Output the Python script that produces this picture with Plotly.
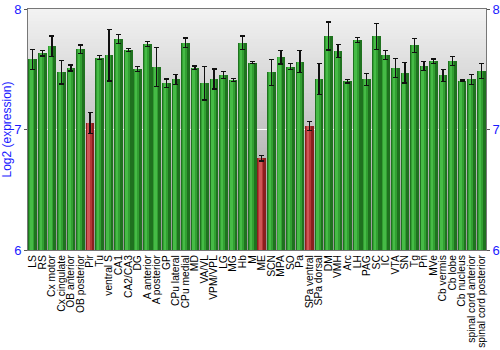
import plotly.graph_objects as go

regions = ["LS", "RS", "Cx motor", "Cx cingulate", "OB anterior", "OB posterior", "Pir", "Tu",
           "ventral S", "CA1", "CA2/CA3", "DG", "A anterior", "A posterior", "GP", "CPu lateral",
           "CPu medial", "MD", "VA/VL", "VPM/VPL", "LG", "MG", "Hb", "M", "ME", "SCN", "MPA", "SO",
           "Pa", "SPa ventral", "SPa dorsal", "DM", "VMH", "Arc", "LH", "PAG", "SC", "IC", "VTA",
           "SN", "Tg", "Pn", "MVe", "Cb vermis", "Cb lobe", "Cb nucleus", "spinal cord anterior",
           "spinal cord posterior"]

expression = [7.583, 7.632, 7.690, 7.475, 7.510, 7.665, 7.056, 7.596,
              7.616, 7.751, 7.660, 7.502, 7.712, 7.519, 7.383, 7.416,
              7.720, 7.513, 7.383, 7.419, 7.452, 7.411, 7.720, 7.554, 6.760, 7.475, 7.599, 7.521,
              7.563, 7.029, 7.419, 7.776, 7.651, 7.400, 7.743, 7.416, 7.773, 7.618, 7.510,
              7.472, 7.699, 7.527, 7.568, 7.450, 7.568, 7.405, 7.416,
              7.486]

error = [0.083, 0.022, 0.086, 0.097, 0.025, 0.036, 0.088, 0.017,
         0.213, 0.036, 0.014, 0.019, 0.021, 0.162, 0.036, 0.041,
         0.039, 0.015, 0.138, 0.082, 0.028, 0.011, 0.057, 0.008, 0.022, 0.108, 0.055, 0.024,
         0.091, 0.036, 0.126, 0.116, 0.055, 0.015, 0.019, 0.050, 0.108, 0.036, 0.077,
         0.086, 0.058, 0.040, 0.018, 0.050, 0.036, 0.006, 0.041,
         0.064]

low_expression = {"Pir", "ME", "SPa ventral"}

y_min, y_max = 6, 8
y_ticks = [6, 7, 8]

# shaded strips give each bar a rounded, cylinder-like look
def shade(dark_g, mid_g, light_g, dark_r, mid_r, light_r):
    return ([dark_r if r in low_expression else dark_g for r in regions],
            [mid_r if r in low_expression else mid_g for r in regions],
            [light_r if r in low_expression else light_g for r in regions])

base_c, mid_c, light_c = shade("#1f721f", "#32a032", "#46bb46", "#8a1f1f", "#b53636", "#cf5656")

n = len(regions)
bar_w = 0.91
strips = [
    (base_c, -bar_w / 2, bar_w),
    (mid_c, -bar_w / 2 + 0.10, 0.52),
    (light_c, -bar_w / 2 + 0.17, 0.26),
]

fig = go.Figure()
for colors, off, w in strips:
    fig.add_trace(go.Bar(
        x=regions, y=[v - y_min for v in expression], base=y_min,
        marker=dict(color=colors, line=dict(width=0)),
        offset=off, width=w, hoverinfo="skip", showlegend=False,
    ))

# transparent full-width bars carry the error bars on top
fig.add_trace(go.Bar(
    x=regions, y=[v - y_min for v in expression], base=y_min,
    marker=dict(color="rgba(0,0,0,0)", line=dict(width=0)),
    offset=-bar_w / 2, width=bar_w, showlegend=False,
    error_y=dict(type="data", array=error, visible=True, color="#111111",
                 thickness=1.3, width=2.5),
))

# right-hand axis duplicate
fig.add_trace(go.Scatter(x=[regions[0]], y=[y_min], yaxis="y2", mode="markers",
                         marker=dict(opacity=0), showlegend=False, hoverinfo="skip"))

# vertical gradient background: each band reaches down to the bottom so no seams show
bands = 80
for i in range(bands):
    t = i / (bands - 1)
    g = int(round(242 - (242 - 150) * t))
    y1 = y_max - (y_max - y_min) * i / bands
    fig.add_shape(type="rect", xref="paper", yref="y", x0=0, x1=1, y0=y_min, y1=y1,
                  fillcolor=f"rgb({g},{g},{g})", line=dict(width=0), layer="below")

blue = "#1a1aff"
fig.update_layout(
    width=500, height=350,
    margin=dict(l=28, r=14, t=9, b=100),
    paper_bgcolor="white", plot_bgcolor="rgba(0,0,0,0)",
    barmode="overlay", bargap=0,
    font=dict(family="Liberation Sans, Arial, sans-serif", size=12, color="black"),
    xaxis=dict(type="category", range=[-0.5, n - 0.5], tickangle=-90,
               tickmode="array", tickvals=regions, ticktext=regions,
               tickfont=dict(size=10.3, color="black"), showgrid=False,
               showline=True, linecolor="#777777", mirror=True, ticks="",
               zeroline=False, automargin=False),
    yaxis=dict(range=[y_min, y_max], tickvals=y_ticks, showgrid=True,
               gridcolor="white", gridwidth=1, zeroline=False,
               tickfont=dict(size=13, color=blue), ticks="outside", ticklen=3,
               tickcolor="#555555", showline=True, linecolor="#777777",
               title=dict(text="Log2 (expression)", font=dict(size=12, color=blue),
                          standoff=4),
               automargin=False),
    yaxis2=dict(range=[y_min, y_max], tickvals=y_ticks, overlaying="y", side="right",
                showgrid=False, zeroline=False, tickfont=dict(size=13, color=blue),
                ticks="outside", ticklen=3, tickcolor="#555555",
                showline=True, linecolor="#777777", automargin=False),
)

fig.write_html("out.html")
